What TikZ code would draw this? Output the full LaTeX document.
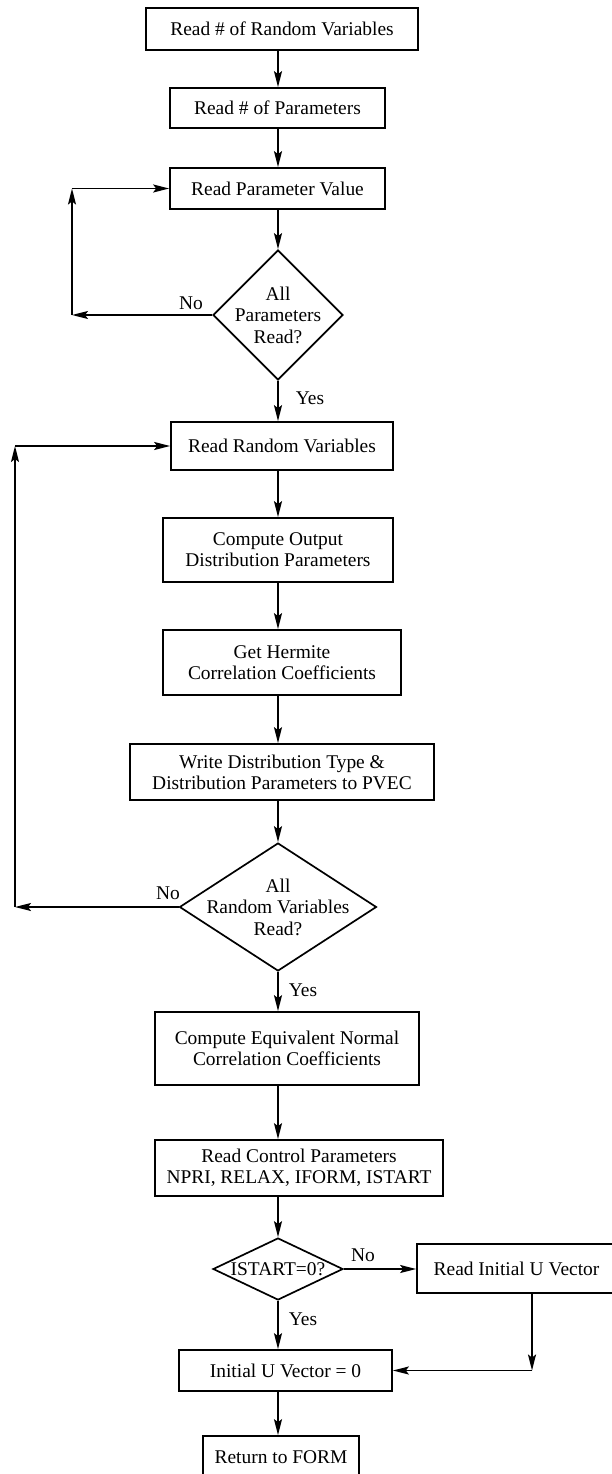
\documentclass[tikz,border=0pt]{standalone}
\usepackage{fontspec}
\setmainfont{Liberation Serif}
\usetikzlibrary{arrows.meta, positioning, shapes.geometric, calc}

\begin{document}
\begin{tikzpicture} [x=1bp, y=-1bp,
                box/.style={draw, rectangle, line width=1.7bp, inner sep=2bp, align=center, font=\fontsize{19.5}{21}\selectfont},
                decision/.style={draw, diamond, line width=1.7bp, inner sep=0pt},
                dtext/.style={align=center, inner sep=0pt, font=\fontsize{19.5}{21.5}\selectfont},
                lbl/.style={inner sep=0pt, font=\fontsize{19.5}{21}\selectfont},
                arrow/.style={-{Stealth[length=16bp, width=8bp, inset=3bp]}, line width=1.7bp}
            ]
            \clip (0,0) rectangle (612,1474);

            % Axis and loop columns
            \coordinate (ax) at (278,0);
            \coordinate (loopa) at (72,0);
            \coordinate (loopb) at (15,0);
            \coordinate (ubend) at (532,0);

            % Parameter input
            \begin{scope}
                \node[box, minimum width=272bp, minimum height=42bp] (rvnum) at (282,29) {Read \# of Random Variables};
                \node[box, minimum width=215bp, minimum height=40bp] (parnum) at (277.5,108) {Read \# of Parameters};
                \node[box, minimum width=215bp, minimum height=41bp] (parval) at (277.5,188.5) {Read Parameter Value};
                \node[decision, minimum width=130bp, minimum height=130bp] (allpar) at (278,315) {};
                \node[dtext] (allpartxt) at (allpar) {All\\Parameters\\Read?};
            \end{scope}

            % Random variable loop
            \begin{scope}
                \node[box, minimum width=222bp, minimum height=48bp] (readrv) at (282,446) {Read Random Variables};
                \node[box, minimum width=230bp, minimum height=64bp] (outdist) at (278,550) {Compute Output\\Distribution Parameters};
                \node[box, minimum width=238bp, minimum height=65bp] (hermite) at (282,662.5) {Get Hermite\\Correlation Coefficients};
                \node[box, minimum width=304bp, minimum height=56bp] (pvec) at (282,772) {Write Distribution Type \&\\Distribution Parameters to PVEC};
                \node[decision, minimum width=197bp, minimum height=128bp] (allrv) at (278,907) {};
                \node[dtext] (allrvtxt) at (allrv) {All\\Random Variables\\Read?};
            \end{scope}

            % Control and start vector
            \begin{scope}
                \node[box, minimum width=264bp, minimum height=73bp] (eqnorm) at (287,1048.5) {Compute Equivalent Normal\\Correlation Coefficients};
                \node[box, minimum width=288bp, minimum height=56bp] (control) at (299,1168) {Read Control Parameters\\NPRI, RELAX, IFORM, ISTART};
                \node[decision, minimum width=130bp, minimum height=62bp] (istart) at (278,1269) {};
                \node[dtext] (istarttxt) at (istart) {ISTART=0?};
                \node[box, minimum width=199bp, minimum height=49bp] (initu) at (516.5,1268.5) {Read Initial U Vector};
                \node[box, minimum width=213bp, minimum height=41bp] (uzero) at (285.5,1370.5) {Initial U Vector = 0};
                \node[box, minimum width=156bp, minimum height=42bp] (retform) at (281,1457) {Return to FORM};
            \end{scope}

            % Labels
            \node[lbl] (no1) at (191,303) {No};
            \node[lbl] (yes1) at (310,398) {Yes};
            \node[lbl] (no2) at (168,893) {No};
            \node[lbl] (yes2) at (303,990) {Yes};
            \node[lbl] (no3) at (363,1255) {No};
            \node[lbl] (yes3) at (303,1319) {Yes};

            % Connections
            \draw[arrow] (rvnum.south -| ax) -- (parnum.north -| ax);
            \draw[arrow] (parnum.south -| ax) -- (parval.north -| ax);
            \draw[arrow] (parval.south -| ax) -- (allpar.north);
            \draw[arrow] (allpar.south) -- (readrv.north -| ax);
            \draw[arrow] (readrv.south -| ax) -- (outdist.north -| ax);
            \draw[arrow] (outdist.south -| ax) -- (hermite.north -| ax);
            \draw[arrow] (hermite.south -| ax) -- (pvec.north -| ax);
            \draw[arrow] (pvec.south -| ax) -- (allrv.north);
            \draw[arrow] (allrv.south) -- (eqnorm.north -| ax);
            \draw[arrow] (eqnorm.south -| ax) -- (control.north -| ax);
            \draw[arrow] (control.south -| ax) -- (istart.north);
            \draw[arrow] (istart.south) -- (uzero.north -| ax);
            \draw[arrow] (uzero.south -| ax) -- (retform.north -| ax);

            \draw[arrow] (allpar.west) -- (allpar.west -| loopa);
            \draw[arrow] (allpar.west -| loopa) -- (parval.west -| loopa);
            \draw[arrow] (parval.west -| loopa) -- (parval.west);

            \draw[arrow] (allrv.west) -- (allrv.west -| loopb);
            \draw[arrow] (allrv.west -| loopb) -- (readrv.west -| loopb);
            \draw[arrow] (readrv.west -| loopb) -- (readrv.west);

            \draw[arrow] (istart.east) -- (initu.west |- istart.east);
            \draw[arrow] (initu.south -| ubend) -- (uzero.east -| ubend);
            \draw[arrow] (uzero.east -| ubend) -- (uzero.east);
        \end{tikzpicture}
\end{document}
